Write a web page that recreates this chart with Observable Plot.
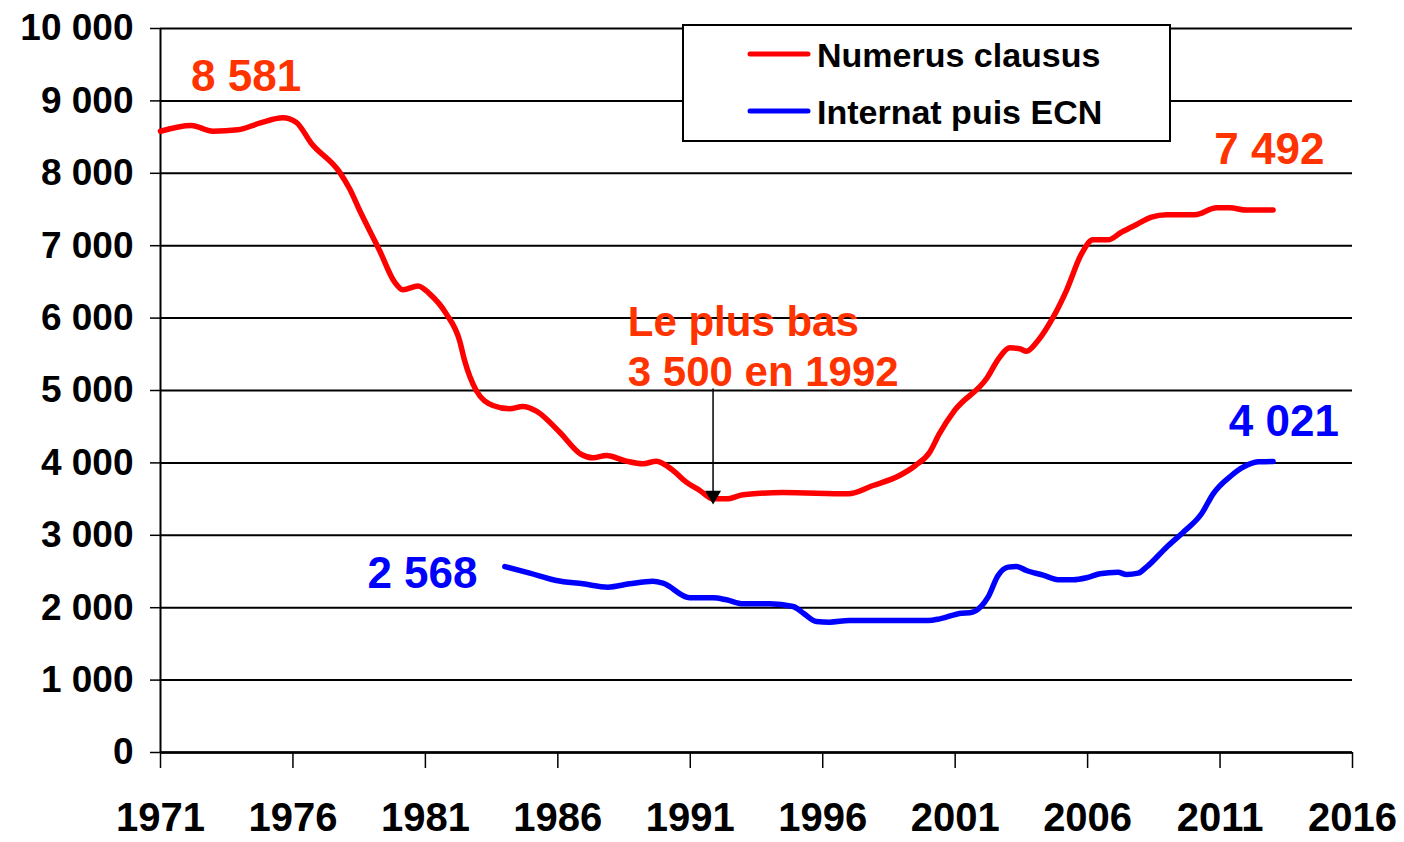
<!DOCTYPE html>
<html>
<head>
<meta charset="utf-8">
<script src="https://cdn.jsdelivr.net/npm/d3@7"></script>
<script src="https://cdn.jsdelivr.net/npm/@observablehq/plot@0.6"></script>
<style>
  html, body { margin: 0; padding: 0; background: #fff; }
  #chart svg { display: block; }
</style>
</head>
<body>
<div id="chart"></div>
<script>
// ---- Data ----
const redYears = [1971.0, 1972.16, 1972.98, 1973.92, 1974.74, 1975.62, 1976.12, 1976.69, 1977.76, 1978.14,
  1978.52, 1979.27, 1979.84, 1980.15, 1980.72, 1981.16, 1981.79, 1982.29, 1982.48, 1982.92,
  1983.55, 1984.18, 1984.68, 1985.19, 1986.07, 1986.89, 1987.33, 1987.83, 1988.59, 1989.21,
  1989.72, 1990.35, 1990.85, 1991.36, 1991.86, 1992.36, 1992.99, 1994.5, 1996.96, 1997.9,
  1998.9, 1999.5, 2000.04, 2000.4, 2000.98, 2002.18, 2002.68, 2003.06, 2003.44, 2003.69,
  2004.13, 2004.7, 2005.2, 2005.77, 2006.2, 2006.77, 2007.28, 2007.85, 2008.41, 2008.98,
  2010.05, 2010.87, 2011.37, 2012.0, 2013.0];
const redValues = [8581, 8660, 8582, 8600, 8692, 8766, 8706, 8416, 8016, 7786,
  7486, 6934, 6496, 6391, 6445, 6335, 6059, 5691, 5414, 5000,
  4793, 4747, 4779, 4714, 4424, 4116, 4070, 4102, 4024, 3987,
  4024, 3895, 3734, 3619, 3504, 3504, 3559, 3590, 3573, 3688,
  3826, 3964, 4148, 4401, 4724, 5162, 5460, 5589, 5576, 5543,
  5691, 6013, 6381, 6888, 7081, 7081, 7187, 7293, 7394, 7427,
  7427, 7523, 7523, 7492, 7492];

const blueYears = [1984.0, 1984.94, 1985.94, 1986.95, 1987.89, 1988.71, 1989.59, 1989.97, 1990.98, 1991.86,
  1992.36, 1992.99, 1994.0, 1994.88, 1995.3, 1995.76, 1996.26, 1997.0, 1999.98, 2000.42,
  2001.24, 2001.55, 2001.99, 2002.24, 2002.62, 2003.0, 2003.32, 2003.69, 2004.32, 2004.95,
  2005.45, 2005.96, 2006.46, 2007.15, 2007.46, 2007.91, 2008.22, 2008.98, 2009.61, 2010.3,
  2010.74, 2011.43, 2011.87, 2012.44, 2013.0];
const blueValues = [2568, 2477, 2376, 2330, 2284, 2330, 2366, 2339, 2137, 2137,
  2109, 2054, 2054, 2017, 1915, 1809, 1800, 1823, 1823, 1846,
  1924, 1929, 2021, 2145, 2445, 2560, 2569, 2514, 2449, 2385,
  2385, 2413, 2468, 2490, 2459, 2477, 2560, 2836, 3043, 3297,
  3573, 3826, 3941, 4015, 4021];

const seriesNames = ["Numerus clausus", "Internat puis ECN"];
const seriesColors = ["#ff0000", "#0000ff"];

const xTicks = [1971, 1976, 1981, 1986, 1991, 1996, 2001, 2006, 2011, 2016];
const yTicks = [0, 1000, 2000, 3000, 4000, 5000, 6000, 7000, 8000, 9000, 10000];

// value labels
const valueLabelTexts = ["8 581", "7 492", "4 021", "2 568"];
const valueLabelX = [1974.23, 2012.86, 2013.41, 1980.89];
const valueLabelY = [9330, 8329, 4572, 2465];
const valueLabelColors = ["#ff3300", "#ff3300", "#0000ff", "#0000ff"];

// annotation of minimum
const noteLines = ["Le plus bas", "3 500 en 1992"];
const noteX = [1988.64, 1988.64];
const noteY = [5939, 5242];
const minYear = 1991.86;
const arrowFrom = 5028;
const arrowHead = 3552;

// ---- Build tables ----
const red = redYears.map((x, i) => ({x, y: redValues[i]}));
const blue = blueYears.map((x, i) => ({x, y: blueValues[i]}));
const valueLabels = valueLabelTexts.map((t, i) => ({t, x: valueLabelX[i], y: valueLabelY[i], c: valueLabelColors[i]}));
const notes = noteLines.map((t, i) => ({t, x: noteX[i], y: noteY[i]}));

const fmt = d => d3.format(",")(d).replace(/,/g, " ");
const FONT = "'Liberation Sans', Arial, Helvetica, sans-serif";

const chart = Plot.plot({
  width: 1404,
  height: 842,
  marginLeft: 160,
  marginRight: 52,
  marginTop: 28,
  marginBottom: 90,
  style: {fontFamily: FONT, fontWeight: "bold", color: "black", background: "white"},
  x: {type: "linear", domain: [1971, 2016], label: null},
  y: {type: "linear", domain: [0, 10000], label: null},
  marks: [
    Plot.gridY(yTicks, {stroke: "black", strokeOpacity: 1, strokeWidth: 2}),
    Plot.axisY(yTicks, {tickSize: 10, tickPadding: 17, tickFormat: fmt, fontSize: 37, fontWeight: "bold", strokeWidth: 1.5}),
    Plot.axisX(xTicks, {tickSize: 16, tickPadding: 34, tickFormat: d => String(d), fontSize: 40, fontWeight: "bold", strokeWidth: 1.5}),
    Plot.ruleY([0], {stroke: "black", strokeWidth: 2.5}),
    Plot.ruleX([1971], {stroke: "black", strokeWidth: 2}),
    Plot.line(blue, {x: "x", y: "y", stroke: seriesColors[1], strokeWidth: 5.5, curve: "monotone-x"}),
    Plot.line(red, {x: "x", y: "y", stroke: seriesColors[0], strokeWidth: 5.5, curve: "monotone-x"}),
    Plot.link([{x: minYear, y1: arrowFrom, y2: arrowHead}], {x1: "x", x2: "x", y1: "y1", y2: "y2", stroke: "black", strokeWidth: 1.5}),
    Plot.dot([{x: minYear, y: arrowHead}], {x: "x", y: "y", symbol: "triangle", r: 5.94, fill: "black", stroke: null, rotate: 180}),
    Plot.text(valueLabels, {x: "x", y: "y", text: "t", fill: "c", fontSize: 44, fontWeight: "bold", fontFamily: FONT}),
    Plot.text(notes, {x: "x", y: "y", text: "t", fill: "#ff3300", fontSize: 42, fontWeight: "bold", textAnchor: "start", fontFamily: FONT})
  ]
});

document.getElementById("chart").appendChild(chart);

// ---- Legend box (drawn inside the SVG) ----
const svg = d3.select(chart);
const lg = svg.append("g").attr("class", "legend").attr("text-anchor", "start");
lg.append("rect").attr("x", 683).attr("y", 25).attr("width", 487).attr("height", 116)
  .attr("fill", "white").attr("stroke", "black").attr("stroke-width", 2);
seriesNames.forEach((name, i) => {
  const cy = 54 + i * 57;
  lg.append("line").attr("x1", 750).attr("x2", 808).attr("y1", cy).attr("y2", cy)
    .attr("stroke", seriesColors[i]).attr("stroke-width", 5).attr("stroke-linecap", "round");
  lg.append("text").attr("x", 817).attr("y", cy + 13).attr("text-anchor", "start")
    .attr("font-family", FONT).attr("font-weight", "bold").attr("font-size", 34)
    .attr("fill", "black").text(name);
});
</script>
</body>
</html>
